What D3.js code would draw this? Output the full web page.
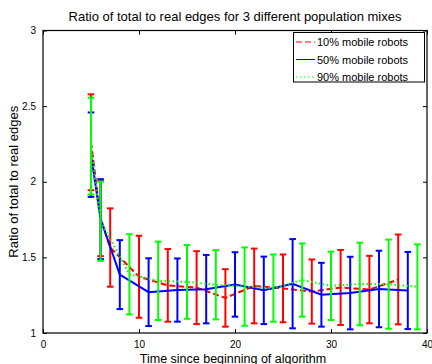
<!DOCTYPE html>
<html>
<head>
<meta charset="utf-8">
<script src="https://cdn.jsdelivr.net/npm/d3@7"></script>
<style>
  html, body { margin: 0; padding: 0; background: #fff; }
  svg { display: block; font-family: "Liberation Sans", Arial, Helvetica, sans-serif; }
</style>
</head>
<body>
<svg id="chart" width="432" height="364"></svg>
<script>
// Time points, mean ratios and error half-widths for each population mix
const redT    = [5, 6, 7, 10, 13, 16, 19, 22, 25, 28, 31, 34, 37];
const redMean = [2.261, 1.757, 1.565, 1.372, 1.315, 1.300, 1.232, 1.311, 1.295, 1.274, 1.301, 1.287, 1.354];
const redErr  = [0.317, 0.249, 0.259, 0.271, 0.240, 0.241, 0.190, 0.247, 0.224, 0.212, 0.248, 0.223, 0.297];

const blueT    = [5, 6, 8, 11, 14, 17, 20, 23, 26, 29, 32, 35, 38];
const blueMean = [2.179, 1.753, 1.386, 1.270, 1.284, 1.290, 1.321, 1.282, 1.326, 1.253, 1.264, 1.291, 1.281];
const blueErr  = [0.279, 0.264, 0.228, 0.224, 0.209, 0.226, 0.213, 0.223, 0.295, 0.211, 0.240, 0.253, 0.255];

const greenT    = [5, 6, 9, 12, 15, 18, 21, 24, 27, 30, 33, 36, 39];
const greenMean = [2.236, 1.739, 1.388, 1.345, 1.338, 1.319, 1.307, 1.297, 1.350, 1.312, 1.324, 1.323, 1.305];
const greenErr  = [0.320, 0.262, 0.265, 0.259, 0.244, 0.229, 0.259, 0.222, 0.242, 0.226, 0.273, 0.295, 0.281];

const seriesNames = ["10% mobile robots", "50% mobile robots", "90% mobile robots"];
const xTicks = [0, 10, 20, 30, 40];
const yTicks = [1, 1.5, 2, 2.5, 3];

const titleText = "Ratio of total to real edges for 3 different population mixes";
const xLabel = "Time since beginning of algorithm";
const yLabel = "Ratio of total to real edges";

const series = [
  { name: seriesNames[0], t: redT,   m: redMean,   e: redErr,   color: "#ff0000", dash: "6,3" },
  { name: seriesNames[1], t: blueT,  m: blueMean,  e: blueErr,  color: "#0000ff", dash: null },
  { name: seriesNames[2], t: greenT, m: greenMean, e: greenErr, color: "#00ff00", dash: "1.5,2.5" }
];

const svg = d3.select("#chart");
const plotL = 43, plotR = 427, plotT = 30.5, plotB = 333;

const x = d3.scaleLinear().domain([0, 40]).range([plotL, plotR]);
const y = d3.scaleLinear().domain([1, 3]).range([plotB, plotT]);

// Plot background
svg.append("rect")
  .attr("x", plotL).attr("y", plotT)
  .attr("width", plotR - plotL).attr("height", plotB - plotT)
  .attr("fill", "#fff");

// Series: line plus error bars
const capHalf = 3.3;
const plot = svg.append("g");
series.forEach(s => {
  const pts = s.t.map((t, i) => ({ t, m: s.m[i], e: s.e[i] }));
  const g = plot.append("g");
  const line = d3.line().x(d => x(d.t)).y(d => y(d.m));
  g.append("path")
    .datum(pts)
    .attr("d", line)
    .attr("fill", "none")
    .attr("stroke", s.color)
    .attr("stroke-width", 2)
    .attr("stroke-dasharray", s.dash);
  const bars = g.selectAll("g.bar").data(pts).join("g").attr("class", "bar")
    .attr("stroke", s.color).attr("stroke-width", 2);
  bars.append("line")
    .attr("x1", d => x(d.t)).attr("x2", d => x(d.t))
    .attr("y1", d => y(d.m - d.e)).attr("y2", d => y(d.m + d.e));
  bars.append("line")
    .attr("x1", d => x(d.t) - capHalf).attr("x2", d => x(d.t) + capHalf)
    .attr("y1", d => y(d.m + d.e)).attr("y2", d => y(d.m + d.e));
  bars.append("line")
    .attr("x1", d => x(d.t) - capHalf).attr("x2", d => x(d.t) + capHalf)
    .attr("y1", d => y(d.m - d.e)).attr("y2", d => y(d.m - d.e));
});

// Axes with inward ticks on all four sides
const tickLen = 4;
const axisFont = "10px";
const xb = svg.append("g").attr("transform", `translate(0,${plotB})`)
  .call(d3.axisBottom(x).tickValues(xTicks).tickSizeInner(-tickLen).tickSizeOuter(0).tickPadding(8).tickFormat(d3.format("d")));
const xt = svg.append("g").attr("transform", `translate(0,${plotT})`)
  .call(d3.axisTop(x).tickValues(xTicks).tickSizeInner(-tickLen).tickSizeOuter(0).tickFormat(""));
const yl = svg.append("g").attr("transform", `translate(${plotL},0)`)
  .call(d3.axisLeft(y).tickValues(yTicks).tickSizeInner(-tickLen).tickSizeOuter(0).tickPadding(7).tickFormat(d => d3.format("")(d)));
const yr = svg.append("g").attr("transform", `translate(${plotR},0)`)
  .call(d3.axisRight(y).tickValues(yTicks).tickSizeInner(-tickLen).tickSizeOuter(0).tickFormat(""));
[xb, xt, yl, yr].forEach(a => {
  a.select(".domain").remove();
  a.selectAll(".tick line").attr("stroke", "#000").attr("stroke-width", 1);
  a.selectAll("text").attr("fill", "#000").style("font-size", axisFont)
    .style("font-family", '"Liberation Sans", Arial, sans-serif');
});

svg.append("rect")
  .attr("x", plotL).attr("y", plotT)
  .attr("width", plotR - plotL).attr("height", plotB - plotT)
  .attr("fill", "none").attr("stroke", "#000").attr("stroke-width", 1.2);

// Title and axis labels
svg.append("text")
  .attr("x", (plotL + plotR) / 2).attr("y", 21)
  .attr("text-anchor", "middle").style("font-size", "13px")
  .text(titleText);
svg.append("text")
  .attr("x", (plotL + plotR) / 2 - 2).attr("y", 362.5)
  .attr("text-anchor", "middle").style("font-size", "12.5px")
  .text(xLabel);
svg.append("text")
  .attr("transform", `translate(17.5,${(plotT + plotB) / 2}) rotate(-90)`)
  .attr("text-anchor", "middle").style("font-size", "13px")
  .text(yLabel);

// Legend
const lg = svg.append("g");
lg.append("rect")
  .attr("x", 293.5).attr("y", 32.5).attr("width", 131).attr("height", 49.5)
  .attr("fill", "#fff").attr("stroke", "#000").attr("stroke-width", 1);
const rowY = [42, 59.5, 77];
series.forEach((s, i) => {
  lg.append("line")
    .attr("x1", 296).attr("x2", 315)
    .attr("y1", rowY[i]).attr("y2", rowY[i])
    .attr("stroke", s.color).attr("stroke-width", 1)
    .attr("stroke-dasharray", s.dash);
  lg.append("text")
    .attr("x", 317).attr("y", rowY[i] + 4)
    .style("font-size", "11px")
    .text(s.name);
});
</script>
</body>
</html>
